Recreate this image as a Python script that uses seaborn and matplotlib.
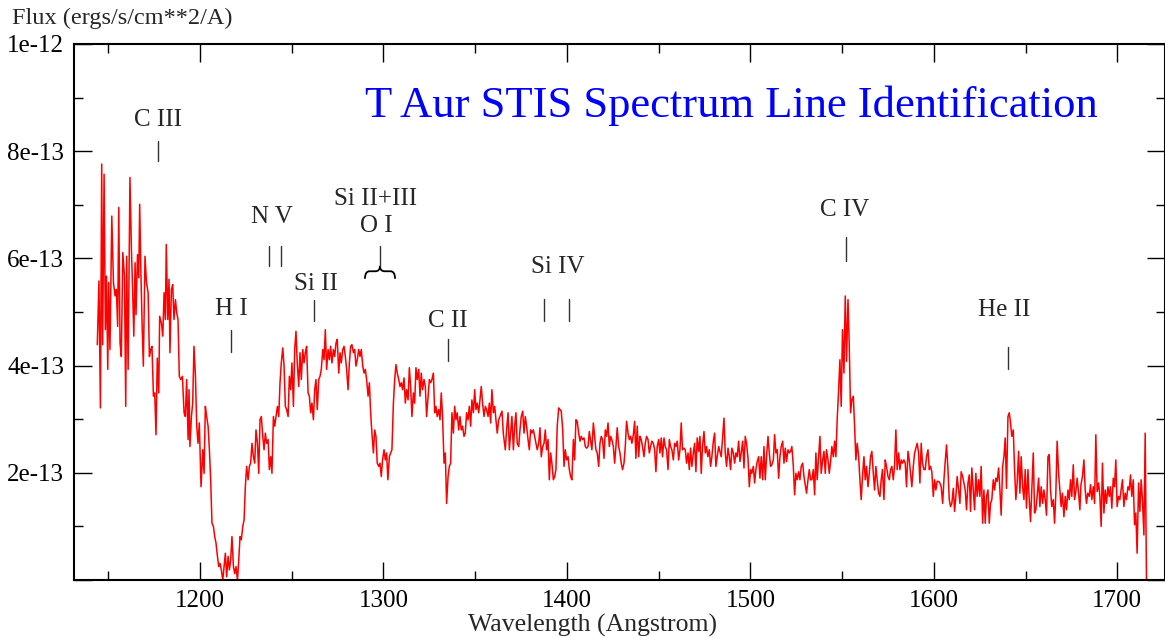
import matplotlib
matplotlib.use("Agg")
import matplotlib.pyplot as plt
import seaborn as sns
from matplotlib.path import Path
from matplotlib.patches import PathPatch
from matplotlib.ticker import MultipleLocator

# T Aur STIS spectrum (flux in units of 1e-13 ergs/s/cm**2/A)
wavelength = [
    1144.0, 1144.9, 1145.7, 1146.4, 1146.9, 1147.7, 1148.4, 1149.0, 1149.7, 1150.2,
    1150.9, 1151.9, 1152.8, 1153.7, 1154.4, 1155.1, 1155.7, 1156.4, 1157.1, 1157.9,
    1158.8, 1159.5, 1160.0, 1160.8, 1161.8, 1162.6, 1163.3, 1163.9, 1164.6, 1165.1,
    1165.9, 1166.6, 1167.1, 1167.8, 1168.4, 1169.1, 1170.0, 1170.8, 1171.7, 1172.4,
    1173.1, 1173.8, 1174.6, 1175.3, 1176.0, 1176.7, 1177.5, 1178.0, 1178.9, 1179.7,
    1180.4, 1181.1, 1181.6, 1182.4, 1183.1, 1183.6, 1184.4, 1185.1, 1185.8, 1186.6,
    1187.3, 1188.0, 1188.7, 1189.5, 1190.4, 1191.3, 1192.0, 1192.7, 1193.5, 1194.0,
    1194.5, 1195.3, 1196.0, 1196.7, 1197.5, 1198.2, 1198.9, 1199.6,
    1200.0, 1200.55, 1201.5, 1202.2, 1202.9, 1203.6, 1204.4, 1205.1, 1205.8, 1206.5,
    1207.3, 1208.0, 1208.7, 1209.5, 1210.2, 1210.9, 1211.6, 1212.4, 1213.1, 1213.8,
    1214.5, 1215.3, 1216.0, 1216.7, 1217.4, 1218.2, 1218.9, 1219.6, 1220.4, 1221.1,
    1221.8, 1222.5, 1223.3, 1224.0, 1224.7, 1225.4, 1226.2, 1226.9, 1227.6, 1228.3,
    1229.1, 1229.8, 1230.5, 1231.3, 1232.0, 1232.7, 1233.4, 1234.2, 1234.9, 1235.6,
    1236.3, 1237.1, 1237.8, 1238.5, 1239.2, 1240.0, 1240.7, 1241.4, 1242.2, 1242.9,
    1243.6, 1244.3, 1245.1, 1245.8, 1246.5, 1247.2, 1248.0, 1248.7, 1249.4, 1250.1,
    1250.9, 1251.6, 1252.3, 1253.0, 1253.8, 1254.5, 1255.2, 1256.0, 1256.7, 1257.4,
    1258.1, 1258.9, 1259.6, 1260.3, 1261.0, 1261.8, 1262.5, 1263.2, 1263.9, 1264.7,
    1265.4, 1266.1, 1266.9, 1267.6, 1268.3, 1269.0, 1269.8, 1270.5, 1271.2, 1271.9,
    1272.7, 1273.4, 1274.1, 1274.8, 1275.6, 1276.3, 1277.0, 1277.8, 1278.5, 1279.2,
    1279.9, 1280.7, 1281.4, 1282.1, 1282.8, 1283.6, 1284.3, 1285.0, 1285.7, 1286.5,
    1287.2, 1287.9, 1288.7, 1289.4, 1290.1, 1290.8, 1291.6, 1292.3, 1293.0,
    1293.7, 1294.5, 1295.2, 1295.9, 1296.6, 1297.4, 1298.1, 1298.8, 1299.5, 1300.3,
    1301.0, 1301.7, 1302.4, 1303.2, 1303.9, 1304.6, 1305.4, 1306.1, 1306.8, 1307.5,
    1308.3, 1309.0, 1309.7, 1310.4, 1311.2, 1311.9, 1312.6, 1313.4, 1314.1, 1314.8,
    1315.5, 1316.3, 1317.0, 1317.7, 1318.4, 1319.2, 1319.9, 1320.6, 1321.3, 1322.1,
    1322.8, 1323.5, 1324.3, 1325.0, 1325.7, 1326.4, 1327.2, 1327.9, 1328.6, 1329.3,
    1330.1, 1330.8, 1331.5, 1332.2, 1333.0, 1333.7, 1334.4, 1335.2, 1335.9, 1336.6,
    1337.3, 1338.1, 1338.8, 1339.5, 1340.2, 1341.0, 1341.7, 1342.4, 1343.1, 1343.9,
    1344.6, 1345.3, 1346.1, 1346.8, 1347.5, 1348.2, 1349.0, 1349.7, 1350.4, 1351.1,
    1351.9, 1352.6, 1353.3, 1354.0, 1354.8, 1355.5, 1356.2, 1357.0, 1357.7, 1358.4,
    1359.1, 1359.9, 1360.6, 1361.3, 1362.0, 1362.8,
    1364.6, 1365.3, 1366.4, 1367.1, 1367.9, 1368.6, 1369.3, 1370.0, 1370.8, 1371.5,
    1372.2, 1372.9, 1373.7, 1374.4, 1375.1, 1375.9, 1376.6, 1377.3, 1378.0, 1378.8,
    1379.5, 1380.2, 1380.9, 1381.7, 1382.4, 1383.1, 1383.8, 1384.6, 1385.3, 1386.0,
    1386.8, 1387.5, 1388.2, 1388.9, 1389.7, 1390.4, 1391.1, 1391.8, 1392.6, 1393.3,
    1394.0, 1394.7, 1395.5, 1396.2, 1396.9, 1397.7, 1398.4, 1399.1, 1399.8, 1400.6,
    1401.3, 1402.0, 1402.7, 1403.5, 1404.2, 1404.9, 1405.6, 1406.4, 1407.1, 1407.8,
    1408.5, 1409.3, 1410.0, 1410.7, 1411.5, 1412.2, 1412.9, 1413.6, 1414.4, 1415.1,
    1415.8, 1416.5, 1417.3, 1418.0, 1418.7, 1419.4, 1420.2, 1420.9, 1421.6, 1422.4,
    1423.1, 1423.8, 1424.5, 1425.3, 1426.0, 1426.7, 1427.4, 1428.2, 1428.9, 1429.6,
    1430.3, 1431.1, 1431.8, 1432.5, 1433.3, 1434.0, 1434.7, 1435.4, 1436.2, 1436.9,
    1437.6, 1438.3, 1439.1, 1439.8, 1440.5, 1441.2, 1442.0, 1442.7, 1443.4, 1444.2,
    1444.9, 1445.6, 1446.3, 1447.1, 1447.8, 1448.5, 1449.2, 1450.0, 1450.7, 1451.4,
    1452.1, 1452.9, 1453.6, 1454.3, 1455.1, 1455.8, 1456.5, 1457.2, 1458.0, 1458.7,
    1459.4, 1460.1, 1460.9, 1461.6, 1462.3, 1463.0, 1463.8, 1464.5, 1465.2, 1466.0,
    1466.7, 1467.4, 1468.1, 1468.9, 1469.6, 1470.3, 1471.0, 1471.8, 1472.5, 1473.2,
    1473.9, 1474.7, 1475.4, 1476.1, 1476.8, 1477.6, 1478.3, 1479.0, 1479.8, 1480.5,
    1481.2, 1481.9, 1482.7,
    1484.1, 1484.9, 1485.6, 1486.3, 1487.0, 1487.8, 1488.5, 1489.2, 1489.9, 1490.7,
    1491.4, 1492.1, 1492.8, 1493.6, 1494.3, 1495.0, 1495.8, 1496.5, 1497.2, 1497.9,
    1498.7, 1499.4, 1500.1, 1500.8, 1501.6, 1502.3, 1503.0, 1503.7, 1504.5, 1505.2,
    1505.9, 1506.7, 1507.4, 1508.1, 1508.8, 1509.6, 1510.3, 1511.0, 1511.7, 1512.5,
    1513.2, 1513.9, 1514.6, 1515.4, 1516.1, 1516.8, 1517.6, 1518.3, 1519.0, 1519.7,
    1520.5, 1521.2, 1521.9, 1522.6, 1523.4, 1524.1, 1524.8, 1525.5, 1526.3, 1527.0,
    1527.7, 1528.5, 1529.2, 1529.9, 1530.6, 1531.4, 1532.1, 1532.8, 1533.5, 1534.3,
    1535.0, 1535.7, 1536.4, 1537.2, 1537.9, 1538.6, 1539.3, 1540.1, 1540.8, 1541.5,
    1542.3, 1543.0, 1543.7, 1544.4, 1545.2, 1545.9, 1546.6, 1547.3, 1548.1, 1548.8,
    1549.5, 1550.2, 1551.0, 1551.7, 1552.4, 1553.2, 1553.9, 1554.6, 1555.3, 1556.1,
    1556.8, 1557.5, 1558.2, 1559.0, 1559.7, 1560.4, 1561.1, 1561.9, 1562.6, 1563.3,
    1564.1, 1564.8, 1565.5, 1566.2, 1567.0, 1567.7, 1568.4, 1569.1, 1569.9, 1570.6,
    1571.3, 1572.0, 1572.8, 1573.5, 1574.2, 1575.0, 1575.7, 1576.4, 1577.1, 1577.9,
    1578.6, 1579.3, 1580.0, 1580.8, 1581.5, 1582.2, 1582.9, 1583.7, 1584.4, 1585.1,
    1585.9, 1586.6, 1587.3, 1588.0, 1588.8, 1589.5, 1590.2, 1590.9, 1591.7, 1592.4,
    1593.1, 1593.8, 1594.6, 1595.3, 1596.0, 1596.8, 1597.5, 1598.2, 1598.9, 1599.7,
    1600.4, 1601.1, 1601.8, 1602.6,
    1603.3, 1604.0, 1604.8, 1605.5, 1606.2, 1606.9, 1607.7, 1608.4, 1609.1, 1609.8,
    1610.6, 1611.3, 1612.0, 1612.7, 1613.5, 1614.2, 1614.9, 1615.7, 1616.4, 1617.1,
    1617.8, 1618.6, 1619.3, 1620.0, 1620.7, 1621.5, 1622.2, 1622.9, 1623.6, 1624.4,
    1625.1, 1625.8, 1626.6, 1627.3, 1628.0, 1628.7, 1629.5, 1630.2, 1630.9, 1631.6,
    1632.4, 1633.1, 1633.8, 1634.5, 1635.3, 1636.0, 1636.7, 1637.5, 1638.2, 1638.9,
    1639.6, 1640.4, 1641.1, 1641.8, 1642.5, 1643.3, 1644.0, 1644.7, 1645.4, 1646.2,
    1646.9, 1647.6, 1648.4, 1649.1, 1649.8, 1650.5, 1651.3, 1652.0, 1652.7, 1653.4,
    1654.2, 1654.9, 1655.6, 1656.3, 1657.1, 1657.8, 1658.5, 1659.3, 1660.0, 1660.7,
    1661.4, 1662.2, 1662.9, 1663.6, 1664.3, 1665.1, 1665.8, 1666.5, 1667.2, 1668.0,
    1668.7, 1669.4, 1670.1, 1670.9, 1671.6, 1672.3, 1673.1, 1673.8, 1674.5, 1675.2,
    1676.0, 1676.7, 1677.4, 1678.1, 1678.9, 1679.6, 1680.2, 1681.0, 1681.8, 1682.5,
    1683.2, 1683.9, 1684.7, 1685.4, 1686.1, 1686.9, 1687.6, 1688.3, 1689.0, 1689.8,
    1690.5, 1691.2, 1691.9, 1692.7, 1693.4, 1694.1, 1694.9, 1695.6, 1696.3, 1697.0,
    1697.8, 1698.5, 1699.2, 1699.9, 1700.7, 1701.4, 1702.1, 1702.8, 1703.6, 1704.3,
    1705.0, 1705.8, 1706.5, 1707.2, 1707.9, 1708.7, 1709.4, 1710.1, 1710.8, 1711.6,
    1712.3, 1713.0, 1713.7, 1714.5, 1715.2, 1715.9,
]

flux = [
    4.39, 5.58, 3.21, 7.76, 4.39, 7.57, 4.67, 5.67, 3.93, 5.55,
    4.30, 6.79, 5.55, 5.30, 5.42, 4.73, 6.95, 4.42, 4.17, 6.11,
    5.67, 3.24, 6.04, 3.93, 7.51, 6.17, 5.36, 4.55, 5.92, 4.95,
    6.07, 5.64, 7.01, 5.67, 4.80, 3.99, 6.04, 5.55, 5.36, 4.17,
    4.30, 4.36, 3.43, 3.49, 2.71, 4.14, 3.49, 4.92, 4.80, 4.55,
    5.36, 4.86, 6.26, 4.86, 5.61, 4.24, 5.42, 5.51, 4.86, 5.23,
    4.98, 4.86, 3.80, 3.74, 3.80, 3.12, 3.05, 3.74, 2.62, 3.55,
    2.49, 3.05, 3.30, 4.36, 3.80, 2.87, 2.55, 2.93,
    2.43, 1.74, 2.43, 1.99, 3.24, 3.05, 2.87, 2.43, 1.87, 1.06,
    1.00, 0.81, 0.69, 0.44, 0.25, 0.31, 0.19, 0.00, 0.25, 0.50,
    0.06, 0.44, 0.19, 0.37, 0.81, 0.25, 0.12, 0.25, 0.00, 0.37,
    0.81, 0.75, 1.00, 1.12, 1.74, 2.12, 1.87, 2.12, 2.18, 2.55,
    2.30, 2.18, 2.80, 2.55, 1.99, 2.99, 3.05, 2.68, 2.43, 2.74,
    2.55, 2.62, 2.06, 2.30, 1.99, 3.05, 2.87, 3.05, 3.24, 3.05,
    3.68, 4.05, 4.33, 3.99, 3.24, 3.18, 3.05, 3.80, 3.55, 4.05,
    3.24, 4.30, 4.64, 4.05, 3.61, 4.24, 3.74, 4.30, 4.05, 4.24,
    4.36, 3.49, 3.43, 3.12, 3.30, 2.99, 3.55, 3.74, 3.18, 3.74,
    3.80, 3.93, 4.30, 4.11, 4.67, 3.93, 4.30, 4.11, 4.36, 4.05,
    4.30, 4.17, 4.42, 4.49, 3.86, 4.24, 4.05, 4.30, 4.36, 4.17,
    3.93, 3.55, 4.05, 4.36, 4.39, 4.24, 4.30, 3.99, 4.11, 4.30,
    4.17, 4.30, 3.99, 3.86, 3.93, 3.74, 3.43, 3.68, 3.12,
    2.74, 2.37, 2.80, 2.68, 2.18, 2.12, 2.18, 1.93, 2.24, 2.43,
    2.24, 2.37, 1.87, 2.30, 2.37, 2.43, 3.30, 3.74, 4.02, 3.86,
    3.74, 3.61, 3.68, 3.55, 3.77, 3.30, 3.55, 3.36, 3.96, 3.61,
    3.05, 3.49, 3.30, 3.96, 3.74, 3.93, 3.43, 3.86, 3.55, 3.74,
    3.61, 3.05, 3.43, 3.74, 3.68, 3.74, 3.86, 3.12, 3.24, 3.05,
    3.18, 2.99, 3.49, 3.05, 2.18, 2.37, 1.43, 1.93, 2.12, 2.18,
    3.12, 2.74, 3.24, 2.99, 3.12, 2.80, 3.05, 2.80, 2.87, 2.68,
    2.74, 3.12, 2.99, 3.24, 2.87, 3.36, 3.12, 3.55, 3.18, 3.30,
    3.12, 3.36, 3.61, 3.30, 3.05, 3.24, 3.18, 3.05, 3.30, 2.93,
    3.55, 3.12, 3.24, 2.99, 2.74, 2.99,
    3.15, 2.74, 2.43, 2.80, 3.12, 2.43, 2.74, 3.05, 2.43, 2.87,
    3.12, 2.55, 2.49, 2.80, 3.05, 3.15, 2.74, 3.05, 2.87, 2.62,
    2.43, 2.80, 2.74, 2.80, 2.68, 2.55, 2.43, 2.55, 2.84, 2.30,
    2.49, 2.55, 2.80, 2.43, 2.62, 1.87, 2.37, 2.18, 1.87, 1.93,
    2.06, 2.87, 3.21, 3.18, 3.15, 2.80, 2.12, 2.43, 2.24, 2.30,
    2.06, 1.93, 1.87, 2.62, 2.24, 2.99, 2.96, 2.74, 2.59, 2.68,
    2.62, 2.65, 2.49, 2.46, 2.49, 2.77, 2.59, 2.43, 2.93, 2.68,
    2.43, 2.37, 2.12, 2.55, 2.68, 2.62, 2.27, 2.80, 2.68, 2.93,
    2.49, 2.68, 2.62, 2.49, 2.18, 2.49, 2.84, 2.49, 2.37, 2.18,
    2.06, 2.18, 2.49, 2.96, 2.74, 2.62, 2.68, 2.55, 2.71, 2.96,
    2.27, 2.87, 2.30, 2.68, 2.62, 2.49, 2.30, 2.55, 2.68, 2.62,
    2.37, 2.49, 2.59, 2.55, 2.43, 2.02, 2.49, 2.62, 2.37, 2.65,
    2.30, 2.65, 2.49, 2.43, 2.06, 2.62, 2.49, 2.43, 2.24, 2.55,
    2.49, 2.59, 2.24, 2.43, 2.93, 2.43, 2.46, 2.43, 2.18, 2.37,
    2.06, 2.46, 2.12, 2.37, 2.55, 2.02, 2.65, 2.40, 2.68, 1.99,
    2.49, 2.77, 2.37, 2.49, 2.30, 2.43, 2.12, 2.30, 2.59, 2.74,
    2.12, 2.30, 2.49,
    2.30, 2.68, 3.02, 2.37, 2.12, 2.46, 2.30, 2.06, 2.46, 2.37,
    2.18, 2.37, 2.30, 2.59, 2.21, 2.37, 2.59, 2.09, 2.68, 2.55,
    2.27, 1.74, 2.06, 1.99, 2.12, 1.81, 2.06, 2.21, 2.30, 1.90,
    2.30, 1.87, 2.49, 1.87, 2.30, 2.68, 2.37, 2.12, 2.15, 2.24,
    2.71, 2.37, 2.43, 1.90, 2.30, 2.49, 2.59, 2.18, 2.46, 2.21,
    2.43, 2.37, 2.40, 2.49, 2.12, 1.59, 1.99, 1.87, 2.02, 1.87,
    2.12, 2.18, 1.93, 1.78, 1.62, 1.87, 2.06, 1.87, 1.87, 2.06,
    1.59, 2.37, 1.87, 2.30, 2.68, 1.99, 2.21, 2.40, 1.99, 2.43,
    2.24, 1.99, 2.21, 2.49, 2.30, 2.59, 2.30, 2.99, 3.55, 4.11,
    3.24, 4.67, 3.86, 5.30, 4.08, 5.23, 4.36, 3.12, 3.36, 3.43,
    2.87, 2.24, 2.55, 2.30, 1.87, 1.50, 1.93, 2.30, 1.87, 2.12,
    1.74, 1.99, 2.30, 2.40, 1.99, 1.68, 2.12, 1.87, 1.62, 1.56,
    1.87, 2.06, 1.50, 2.24, 2.12, 1.93, 1.87, 2.06, 2.12, 1.87,
    2.15, 2.80, 2.06, 2.37, 2.06, 2.24, 2.18, 2.24, 2.18, 1.74,
    2.40, 2.24, 1.99, 1.74, 2.12, 2.37, 2.46, 2.55, 2.37, 1.81,
    2.55, 2.18, 2.06, 2.06, 2.30, 2.43, 2.06, 2.12, 2.02, 1.56,
    1.87, 1.68, 1.84, 1.84,
    1.81, 1.74, 1.43, 1.87, 2.21, 2.52, 2.06, 1.50, 1.37, 1.43,
    1.71, 1.28, 1.56, 1.93, 1.68, 1.43, 2.02, 1.93, 1.81, 1.68,
    1.31, 1.81, 1.96, 1.28, 2.09, 1.68, 1.31, 1.99, 1.56, 1.87,
    1.56, 2.12, 1.06, 1.68, 1.06, 1.56, 1.68, 1.06, 1.43, 1.50,
    1.87, 1.68, 1.90, 1.84, 2.09, 1.68, 1.21, 2.12, 2.30, 2.65,
    1.71, 3.05, 3.12, 2.93, 2.68, 2.80, 2.06, 1.50, 1.81, 2.40,
    1.62, 2.30, 1.74, 1.50, 2.06, 1.34, 2.06, 1.50, 1.09, 1.68,
    2.37, 1.25, 1.31, 1.56, 1.90, 1.37, 1.74, 1.43, 1.68, 1.50,
    1.21, 2.30, 2.34, 1.68, 1.37, 1.50, 1.06, 1.62, 2.59, 1.99,
    1.68, 1.37, 1.62, 1.18, 1.56, 1.31, 1.68, 1.50, 1.87, 1.56,
    2.15, 1.50, 1.65, 1.90, 1.62, 1.31, 1.78, 1.93, 2.24, 1.68,
    1.43, 1.62, 1.56, 1.78, 1.50, 1.74, 1.43, 2.71, 1.65, 1.81,
    1.56, 1.00, 2.18, 1.25, 1.68, 1.43, 1.74, 1.56, 1.74, 1.34,
    1.90, 1.74, 2.24, 1.37, 1.56, 1.50, 1.68, 1.87, 1.37, 1.62,
    1.50, 1.74, 1.68, 1.96, 1.56, 1.87, 1.03, 1.25, 0.50, 1.81,
    1.28, 1.87, 1.50, 0.84, 2.74, 0.00,
]

# line identifications: label, wavelengths of the tick marks
line_labels = ["C III", "H I", "N V", "Si II", "Si II+III\nO I", "C II", "Si IV", "C IV", "He II"]
line_waves = [[1177.1], [1216.9], [1237.8, 1244.1], [1262.1], [1298.1],
              [1335.1], [1387.6, 1401.1], [1552.0], [1640.6]]

# layout of the annotations (label x, label y, tick bottom, tick top), flux in 1e-13
label_pos = [(1177.1, 8.58, 7.81, 8.19), (1216.9, 5.05, 4.26, 4.67),
             (1239.0, 6.77, 5.85, 6.24), (1263.2, 5.53, 4.84, 5.23),
             (1295.9, 6.85, 5.85, 6.24), (1335.1, 4.83, 4.09, 4.50),
             (1395.1, 5.84, 4.84, 5.25), (1551.5, 6.90, 5.96, 6.39),
             (1638.1, 5.03, 3.93, 4.34)]

sns.set_style("ticks")
plt.rcParams["font.family"] = ["Liberation Serif", "DejaVu Serif"]

fig = plt.figure(figsize=(11.65, 6.38), dpi=100)
ax = fig.add_axes([74 / 1165, 58 / 638, 1091 / 1165, 536 / 638])

sns.lineplot(x=wavelength, y=[f * 1e-13 for f in flux], ax=ax, color="#ff0000",
             linewidth=1.1, estimator=None, sort=False)

ax.set_xlim(1131.3, 1726)
ax.set_ylim(0, 1e-12)
ax.xaxis.set_major_locator(MultipleLocator(100))
ax.xaxis.set_minor_locator(MultipleLocator(50))
ax.set_yticks([0, 2e-13, 4e-13, 6e-13, 8e-13, 1e-12])
ax.set_yticklabels(["", "2e-13", "4e-13", "6e-13", "8e-13", "1e-12"])
ax.yaxis.set_minor_locator(MultipleLocator(1e-13))
ax.tick_params(which="both", direction="in", top=True, right=True, colors="black",
               labelsize=18, width=1.0)
ax.tick_params(which="major", length=13, pad=7)
ax.tick_params(which="minor", length=6.5)
for sp in ax.spines.values():
    sp.set_linewidth(1.5)
    sp.set_color("black")

# line marks
for label, waves, (lx, ly, y0, y1) in zip(line_labels, line_waves, label_pos):
    for w in waves:
        ax.plot([w, w], [y0 * 1e-13, y1 * 1e-13], color="#333333", lw=1.0)
    ax.text(lx, ly * 1e-13, label, ha="center", va="center", fontsize=18,
            linespacing=1.3)

# brace under the blended Si II+III / O I mark
x0, xm, x1 = 1289.9, 1298.1, 1306.3
ye, yb, yt = 5.62e-13, 5.76e-13, 5.86e-13
brace = Path([(x0, ye), (x0, yb), (x0 + 2.5, yb), (xm - 2.5, yb), (xm, yb), (xm, yt),
              (xm, yb), (xm + 2.5, yb), (x1 - 2.5, yb), (x1, yb), (x1, ye)],
             [Path.MOVETO, Path.CURVE3, Path.CURVE3, Path.LINETO, Path.CURVE3, Path.CURVE3,
              Path.CURVE3, Path.CURVE3, Path.LINETO, Path.CURVE3, Path.CURVE3])
ax.add_patch(PathPatch(brace, facecolor="none", edgecolor="black", lw=1.3))

ax.text(1489.5, 8.85e-13, "T Aur STIS Spectrum Line Identification", color="#0000ff",
        fontsize=32, ha="center", va="center")

fig.text(12 / 1165, 1 - 18 / 638, "Flux (ergs/s/cm**2/A)", fontsize=17.5, ha="left", va="center")
fig.text(593 / 1165, 1 - 625 / 638, "Wavelength (Angstrom)", fontsize=18.5, ha="center", va="center")

fig.savefig("out.png", dpi=100)
